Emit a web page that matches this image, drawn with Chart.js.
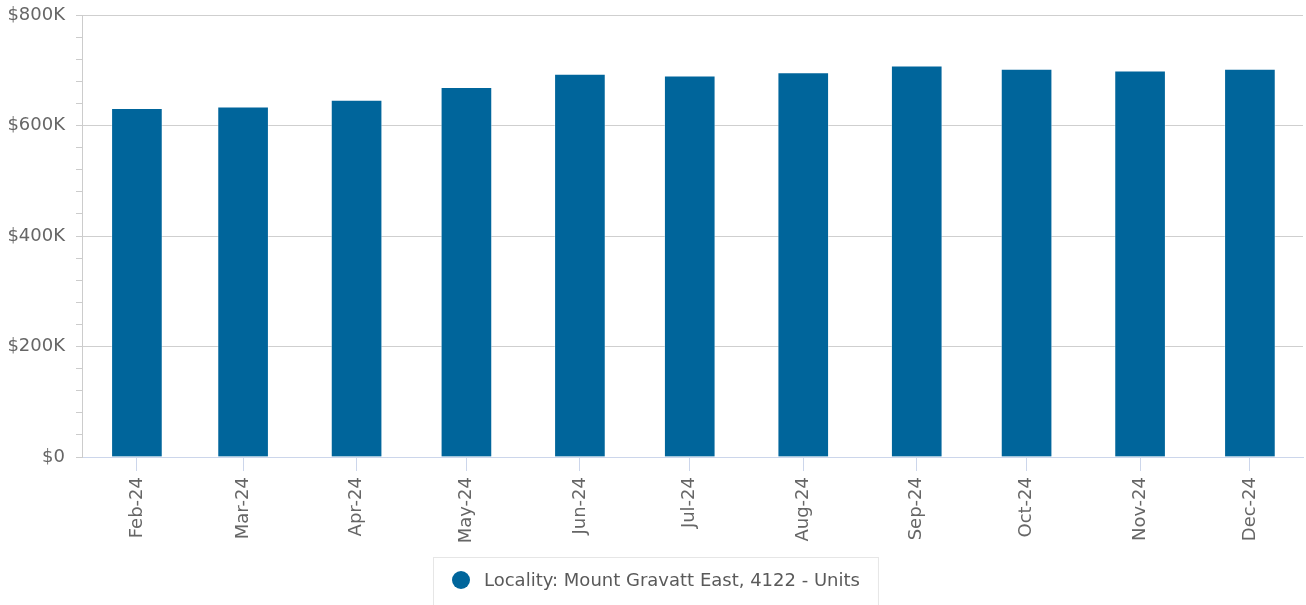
<!DOCTYPE html>
<html>
<head>
<meta charset="utf-8">
<script src="https://cdn.jsdelivr.net/npm/chart.js@4.4.1/dist/chart.umd.min.js"></script>
<style>
  html, body { margin:0; padding:0; background:#fff; }
  #wrap { width:1306px; height:605px; }
</style>
</head>
<body>
<div id="wrap"><canvas id="chart" width="1306" height="605"></canvas></div>
<script>
// data (monthly median, units)
const months = ['2024-02-01','2024-03-01','2024-04-01','2024-05-01','2024-06-01','2024-07-01',
                '2024-08-01','2024-09-01','2024-10-01','2024-11-01','2024-12-01'];
const monthLabels = ['Feb-24','Mar-24','Apr-24','May-24','Jun-24','Jul-24','Aug-24','Sep-24','Oct-24','Nov-24','Dec-24'];
const prices = [631000,634000,646000,669000,693000,690000,696000,708000,702000,699000,702000];
const seriesName = 'Locality: Mount Gravatt East, 4122 - Units';
const yTicks = [0,200000,400000,600000,800000];

const DAY = 864e5;
const t0 = Date.parse(months[0]);
const dayX = months.map(m => (Date.parse(m) - t0) / DAY);

const FONT = 'DejaVu Sans';
const barColor = '#00659b';

// boxed legend under the axis
const boxLegend = {
  id: 'boxLegend',
  afterDraw(chart){
    const ctx = chart.ctx;
    const ds = chart.data.datasets[0];
    ctx.save();
    ctx.font = '18px "' + FONT + '"';
    const tw = ctx.measureText(ds.label).width;
    const boxW = 19 + 18 + 14 + tw + 18;
    const left = Math.round((chart.width - boxW) / 2) + 2;
    const top = 557;
    ctx.strokeStyle = '#e6e6e6';
    ctx.lineWidth = 1;
    ctx.strokeRect(left + 0.5, top + 0.5, boxW, 80);
    ctx.fillStyle = ds.backgroundColor;
    ctx.beginPath();
    ctx.arc(left + 28, 580, 9, 0, Math.PI * 2);
    ctx.fill();
    ctx.fillStyle = '#5a5a5a';
    ctx.textBaseline = 'middle';
    ctx.fillText(ds.label, left + 51, 581);
    ctx.restore();
  }
};

new Chart(document.getElementById('chart'), {
  type: 'bar',
  data: {
    datasets: [{
      label: seriesName,
      data: dayX.map((x, i) => ({x: x, y: prices[i]})),
      backgroundColor: barColor,
      borderColor: 'rgba(255,255,255,0.35)',
      borderWidth: 1,
      barThickness: 51
    }]
  },
  options: {
    responsive: false,
    animation: false,
    devicePixelRatio: 1,
    layout: { padding: { top: 15, right: 3, bottom: 48, left: 0 } },
    plugins: { legend: { display: false }, tooltip: { enabled: false } },
    scales: {
      x: {
        type: 'linear',
        offset: false,
        min: -15,
        max: dayX[dayX.length - 1] + 14.5,
        afterBuildTicks: s => { s.ticks = dayX.map(v => ({value: v})); },
        afterFit: s => { s.height = 100; },
        border: { color: '#ccd6eb' },
        grid: { offset: false, drawOnChartArea: false, tickColor: '#ccd6eb', tickLength: 14 },
        ticks: {
          autoSkip: false, maxRotation: 90, minRotation: 90, padding: 6,
          color: '#666', font: { family: FONT, size: 18 },
          callback: (v, i) => monthLabels[i]
        }
      },
      y: {
        min: 0,
        max: 800000,
        afterFit: s => { s.width = 82; s.paddingTop = 8; s.paddingBottom = 8; },
        border: { color: '#cccccc' },
        grid: {
          color: c => (c.tick && yTicks.includes(c.tick.value)) ? '#cfcfcf' : 'rgba(0,0,0,0)',
          tickColor: '#cccccc',
          tickLength: 6
        },
        ticks: {
          stepSize: 40000, padding: 11, autoSkip: false, maxTicksLimit: 40,
          color: '#666', font: { family: FONT, size: 18 },
          callback: v => yTicks.includes(v) ? (v === 0 ? '$0' : '$' + v / 1000 + 'K') : ''
        }
      }
    }
  },
  plugins: [boxLegend]
});
</script>
</body>
</html>
